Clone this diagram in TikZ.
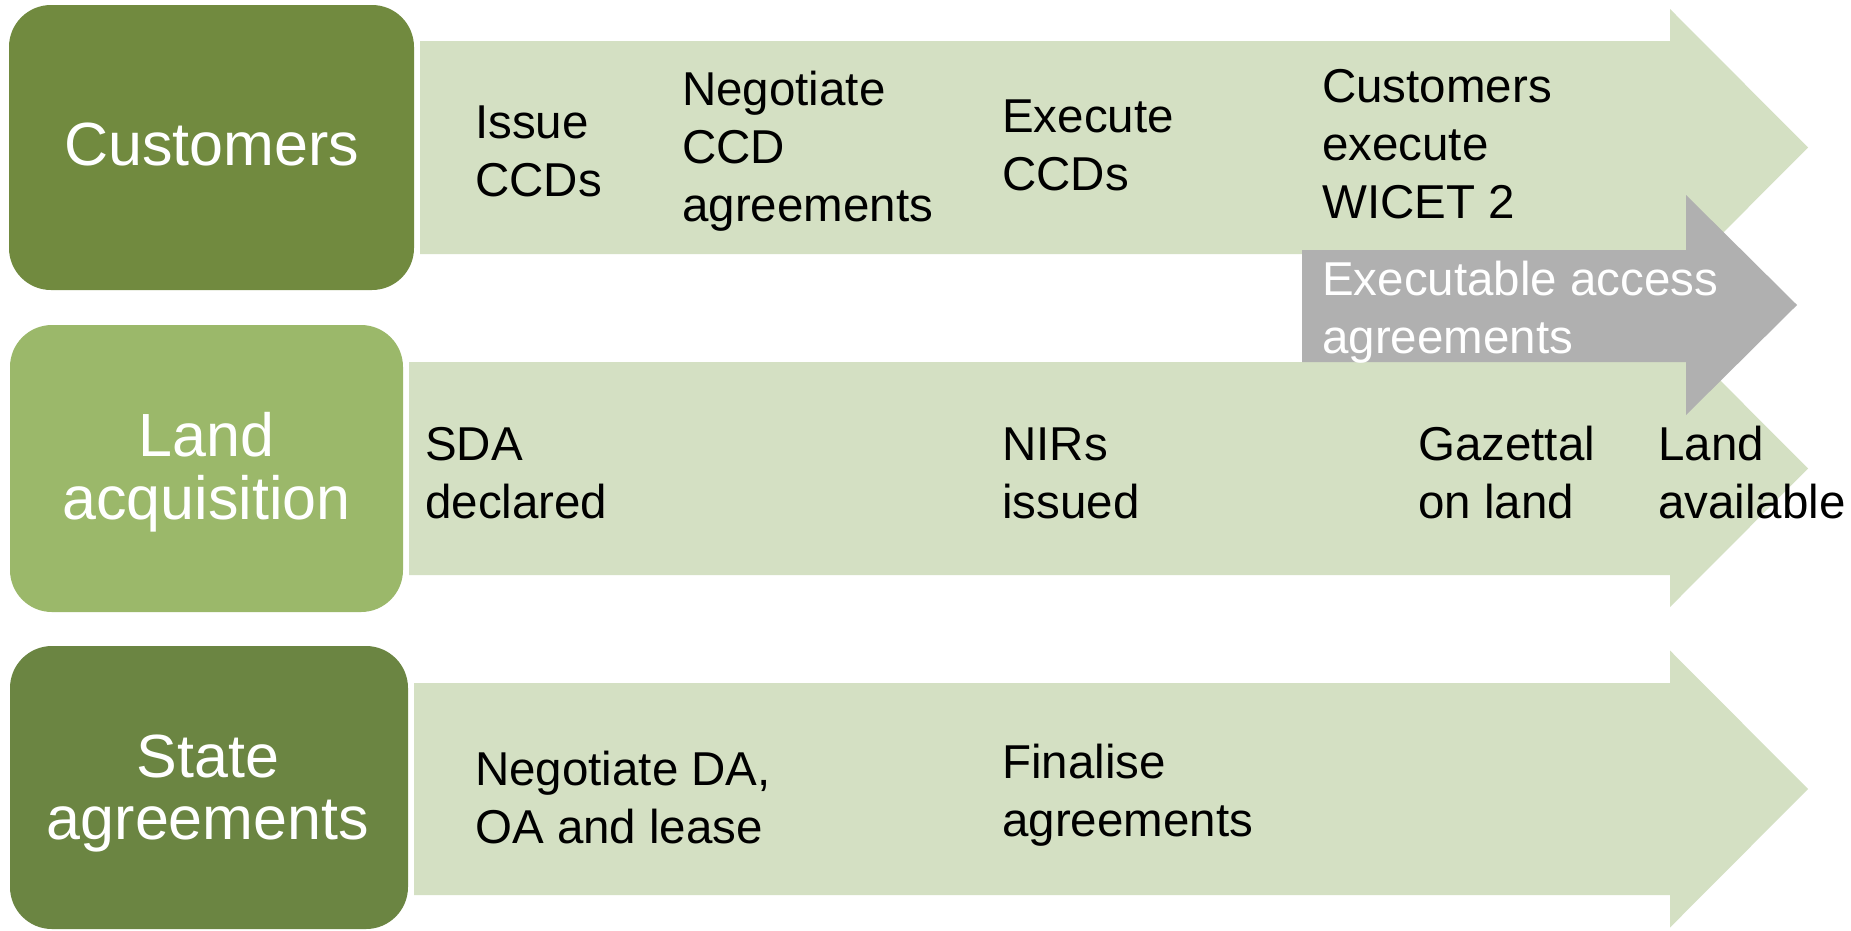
\documentclass[tikz,border=0pt]{standalone}
\usepackage{fontspec}
\setmainfont{Liberation Sans}
\definecolor{custgreen}{HTML}{718A3F}
\definecolor{stategreen}{HTML}{6B8542}
\definecolor{landgreen}{HTML}{9BB86A}
\definecolor{barfill}{HTML}{D4E0C3}
\definecolor{grayfill}{HTML}{B0B0B0}
\begin{document}
\begin{tikzpicture}[x=1pt,y=-1pt,
  catbox/.style={draw=none, rounded corners=42pt, inner sep=0pt},
  catlabel/.style={anchor=north, inner sep=0pt, align=center, text=white, font=\fontsize{61}{62}\selectfont},
  steplabel/.style={anchor=north west, inner sep=0pt, align=left, text=black, font=\fontsize{47.5}{58}\selectfont},
  barshape/.style={fill=barfill, draw=none},
  grayshape/.style={fill=grayfill, draw=none}]
\useasboundingbox (0,0) rectangle (1851,930);
\fill[white] (0,0) rectangle (1851,930);

% category boxes
\node[catbox, fill=custgreen, minimum width=405pt, minimum height=285pt] (custbox) at (211.5,147.5) {};
\node[catbox, fill=landgreen, minimum width=393pt, minimum height=287pt] (landbox) at (206.5,468.5) {};
\node[catbox, fill=stategreen, minimum width=398pt, minimum height=283pt] (statebox) at (209,787.5) {};

% process arrows
\fill[barshape] (420,41) -- (1670,41) -- (1670,9) -- (1808,147.5) -- (1670,286) -- (1670,254) -- (420,254) -- cycle;
\fill[barshape] (409,362) -- (1670,362) -- (1670,330) -- (1808,468.5) -- (1670,607) -- (1670,575) -- (409,575) -- cycle;
\fill[grayshape] (1302,250) -- (1686,250) -- (1686,195) -- (1797,305) -- (1686,415) -- (1686,362) -- (1302,362) -- cycle;
\fill[barshape] (414,683) -- (1670,683) -- (1670,650.5) -- (1808,789) -- (1670,927.5) -- (1670,895) -- (414,895) -- cycle;

% category labels
\node[catlabel] (custlbl) at (211.5,121.6) {\strut Customers};
\node[catlabel] (landlbl) at (206.5,411.6) {\strut Land\\acquisition};
\node[catlabel] (statelbl) at (208,733.6) {\strut State\\agreements};

% customers row
\node[steplabel] (c1) at (475,97.4) {\strut Issue\\CCDs};
\node[steplabel] (c2) at (682,64.4) {\strut Negotiate\\CCD\\agreements};
\node[steplabel] (c3) at (1002,91.4) {\strut Execute\\CCDs};
\node[steplabel] (c4) at (1322,61.4) {\strut Customers\\execute\\WICET 2};

% gray arrow text
\node[steplabel, text=white] (g1) at (1322,254.4) {\strut Executable access\\agreements};

% land row
\node[steplabel] (l1) at (425,419.4) {\strut SDA\\declared};
\node[steplabel] (l2) at (1002,419.4) {\strut NIRs\\issued};
\node[steplabel] (l3) at (1418,419.4) {\strut Gazettal\\on land};
\node[steplabel] (l4) at (1658,419.4) {\strut Land\\available};

% state row
\node[steplabel] (s1) at (475,744.4) {\strut Negotiate DA,\\OA and lease};
\node[steplabel] (s2) at (1002,737.4) {\strut Finalise\\agreements};
\end{tikzpicture}
\end{document}
